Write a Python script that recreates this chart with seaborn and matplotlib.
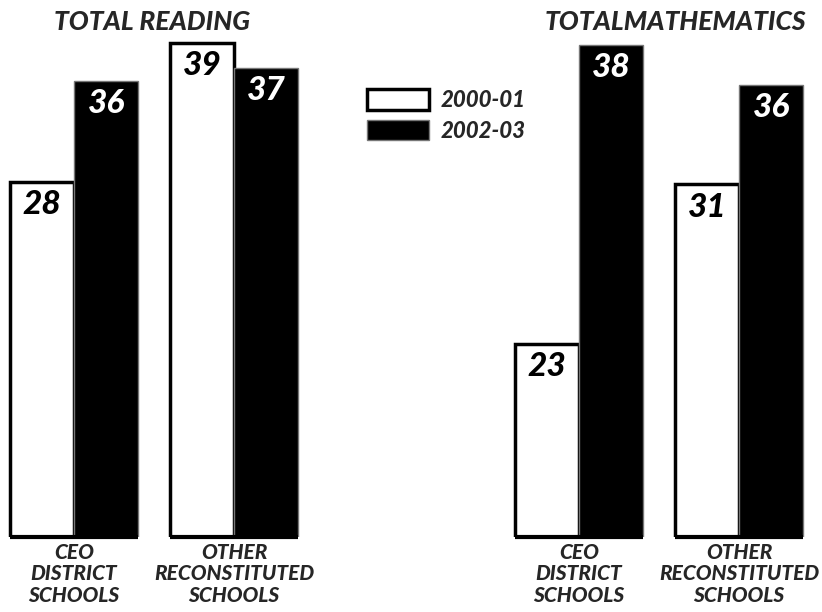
import matplotlib
matplotlib.use("Agg")
import matplotlib.pyplot as plt
from matplotlib.patches import Patch
import seaborn as sns
import pandas as pd

schools = ["CEO\nDISTRICT\nSCHOOLS", "OTHER\nRECONSTITUTED\nSCHOOLS"]
years = ["2000-01", "2002-03"]
reading_2000 = [28, 39]
reading_2002 = [36, 37]
math_2000 = [23, 31]
math_2002 = [38, 36]
titles = ["TOTAL READING", "TOTALMATHEMATICS"]

sns.set_theme(style="white")
plt.rcParams['font.family'] = ['Lato', 'DejaVu Sans']

W, H = 822, 612
fig = plt.figure(figsize=(W / 100, H / 100), dpi=100)


def px_axes(x0, y_top, w, h):
    return fig.add_axes([x0 / W, 1 - (y_top + h) / H, w / W, h / H])


def make_df(v0, v1):
    return pd.DataFrame({
        "school": schools * 2,
        "year": [years[0]] * 2 + [years[1]] * 2,
        "score": list(v0) + list(v1),
    })


panels = [
    (make_df(reading_2000, reading_2002), (0, 320), 74, (0, 40), titles[0], 152),
    (make_df(math_2000, math_2002), (500, 322), 579, (13.3, 38.74), titles[1], 675),
]

label_font = dict(weight='black', style='italic', size=15)

for df, (x0, w), c0, ylim, title, tx in panels:
    ax = px_axes(x0, 30, w, 507)
    sns.barplot(data=df, x="school", y="score", hue="year",
                palette=["white", "black"], width=0.8, gap=0,
                legend=False, ax=ax, errorbar=None)
    for ci, cont in enumerate(ax.containers):
        for p in cont.patches:
            if ci == 0:
                p.set_facecolor("white")
                p.set_edgecolor("black")
                p.set_linewidth(2.5)
            else:
                p.set_facecolor("black")
                p.set_edgecolor("#777777")
                p.set_linewidth(1.0)
        vals = df[df["year"] == years[ci]]["score"].tolist()
        for p, v in zip(cont.patches, vals):
            ax.annotate(str(v), (p.get_x() + p.get_width() / 2, p.get_height()),
                        xytext=(0, -6), textcoords="offset points",
                        ha="center", va="top", fontsize=24, fontweight="black",
                        fontstyle="italic",
                        color="black" if ci == 0 else "white")
    # baseline under each group
    allp = [p for c in ax.containers for p in c.patches]
    for i in range(len(schools)):
        grp = [p for p in allp if abs(p.get_x() + p.get_width() / 2 - i) < 0.5]
        xs = min(p.get_x() for p in grp)
        xe = max(p.get_x() + p.get_width() for p in grp)
        ax.plot([xs, xe], [ylim[0], ylim[0]], color="black", lw=3,
                clip_on=False, solid_capstyle="butt")
    ax.set_xlim((x0 - c0) / 160, (x0 + w - c0) / 160)
    ax.set_ylim(*ylim)
    sns.despine(ax=ax, left=True, bottom=True)
    ax.set_yticks([])
    ax.set_xlabel("")
    ax.set_ylabel("")
    ax.tick_params(axis="x", length=0, pad=4)
    ax.set_xticks(range(len(schools)))
    ax.set_xticklabels(schools, fontdict=label_font, linespacing=1.18)
    fig.text(tx / W, 1 - 22 / H, title, ha="center", va="center",
             fontsize=19, fontweight="black", fontstyle="italic")

handles = [Patch(facecolor="white", edgecolor="black", linewidth=2.5),
           Patch(facecolor="black", edgecolor="#777777", linewidth=1.0)]
fig.legend(handles, years, loc="upper left",
           bbox_to_anchor=(347 / W, 1 - 69 / H), frameon=False,
           handlelength=2.8, handleheight=1.05, handletextpad=0.5,
           labelspacing=0.4,
           prop=dict(weight="black", style="italic", size=16))

fig.savefig("out.png", dpi=100)
